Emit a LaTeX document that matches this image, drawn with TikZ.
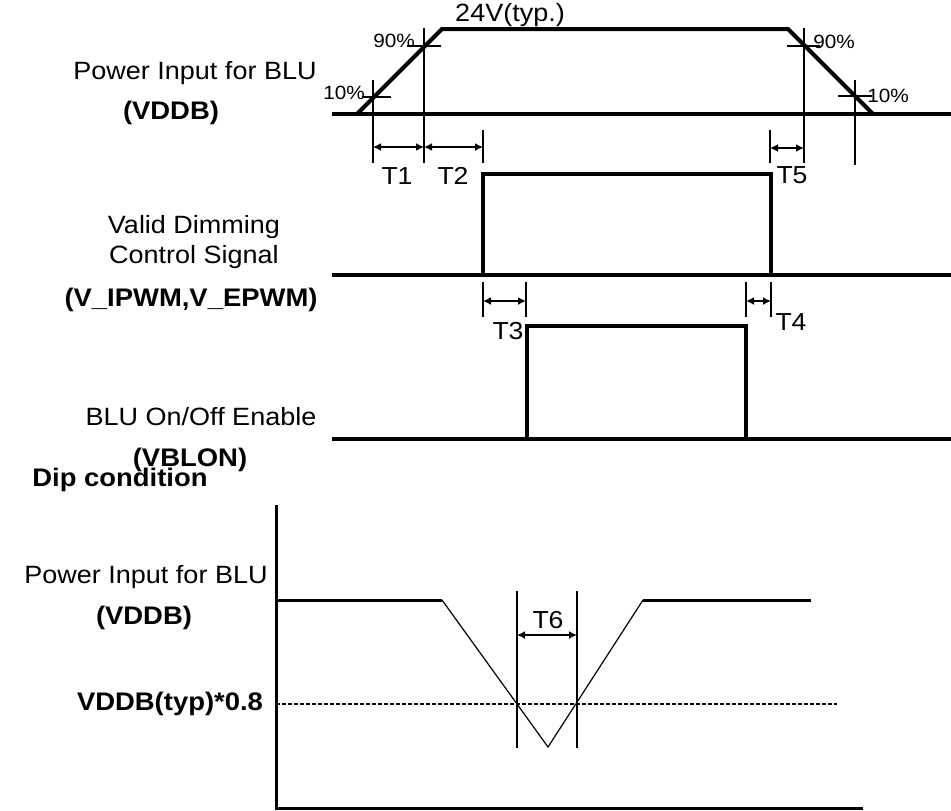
\documentclass[tikz,border=0pt]{standalone}
\usepackage{fontspec}
\setmainfont[FakeStretch=1.08]{Liberation Sans}
\usetikzlibrary{arrows.meta}

\begin{document}
\begin{tikzpicture}[x=0.5pt,y=-0.5pt,>={Latex[length=4pt,width=4pt]},
	sigline/.style={line width=2pt},
	guide/.style={line width=1pt},
	thinline/.style={line width=0.6pt},
	tarrow/.style={<->,line width=1pt},
	every node/.style={inner sep=0pt},
	lbl/.style={font=\fontsize{12.5}{15}\selectfont},
	blbl/.style={font=\fontsize{12.7}{15}\selectfont\bfseries},
	pct/.style={font=\fontsize{9.6}{11}\selectfont},
	tlbl/.style={font=\fontsize{12.3}{14}\selectfont}]
	\useasboundingbox (0,0) rectangle (951,810);
	% VDDB
	\draw[sigline] (332,114) -- (951,114);
	\draw[sigline] (357,114) -- (442,29) -- (788,29) -- (873,114);
	\node[lbl] (vddbtyp) at (510,15) {24V(typ.)};
	\draw[guide] (362,97) -- (391,97);
	\draw[guide] (407,46) -- (441,46);
	\draw[guide] (787,46) -- (820,46);
	\draw[guide] (838,96) -- (872,96);
	\node[pct] (lo10) at (344,93) {10\%};
	\node[pct] (lo90) at (394,41) {90\%};
	\node[pct] (hi90) at (834,42) {90\%};
	\node[pct] (hi10) at (888,96) {10\%};
	\draw[guide] (373,80) -- (373,163);
	\draw[guide] (424,28) -- (424,163);
	\draw[guide] (483,130) -- (483,163);
	\draw[guide] (770,130) -- (770,163);
	\draw[guide] (804,28) -- (804,163);
	\draw[guide] (855,80) -- (855,165);
	\draw[tarrow] (373,147) -- (424,147);
	\draw[tarrow] (424,147) -- (483,147);
	\draw[tarrow] (770,148) -- (804,148);
	\node[tlbl] (t1) at (397,176) {T1};
	\node[tlbl] (t2) at (453,176) {T2};
	\node[tlbl] (t5) at (792,175) {T5};
	\node[lbl] (pwrtop) at (195,73) {Power Input for BLU};
	\node[blbl] (vddbtop) at (171,113) {(VDDB)};
	% dimming
	\draw[sigline] (332,275) -- (951,275);
	\draw[sigline] (483,275) -- (483,174) -- (771,174) -- (771,275);
	\node[lbl,align=center] (dim) at (194,242) {Valid Dimming\\Control Signal};
	\node[blbl] (pwm) at (191,300) {(V\_IPWM,V\_EPWM)};
	\draw[guide] (483,282) -- (483,317);
	\draw[guide] (526,282) -- (526,317);
	\draw[guide] (746,282) -- (746,317);
	\draw[guide] (771,282) -- (771,317);
	\draw[tarrow] (483,301) -- (526,301);
	\draw[tarrow] (746,301) -- (771,301);
	\node[tlbl] (t3) at (508,331) {T3};
	\node[tlbl] (t4) at (791,322) {T4};
	% VBLON
	\draw[sigline] (332,439) -- (951,439);
	\draw[sigline] (527,439) -- (527,326) -- (746,326) -- (746,439);
	\node[lbl] (blon) at (201,417) {BLU On/Off Enable};
	\node[blbl] (vblon) at (190,460) {(VBLON)};
	\node[blbl] (dip) at (120,480) {Dip condition};
	% dip
	\draw[line width=1.5pt] (276,505) -- (276,808) -- (863,808);
	\draw[line width=1.5pt] (276,600) -- (442,600);
	\draw[thinline] (442,600) -- (548,747) -- (643,600);
	\draw[line width=1.5pt] (643,600) -- (811,600);
	\draw[thinline,dash pattern=on 2pt off 1pt] (276,704) -- (837,704);
	\draw[guide] (517,591) -- (517,748);
	\draw[guide] (577,591) -- (577,748);
	\draw[tarrow] (517,635) -- (577,635);
	\node[tlbl] (t6) at (548,620) {T6};
	\node[lbl] (pwrbot) at (146,577) {Power Input for BLU};
	\node[blbl] (vddbbot) at (144,618) {(VDDB)};
	\node[blbl] (vddb08) at (170,704) {VDDB(typ)*0.8};
\end{tikzpicture}
\end{document}
